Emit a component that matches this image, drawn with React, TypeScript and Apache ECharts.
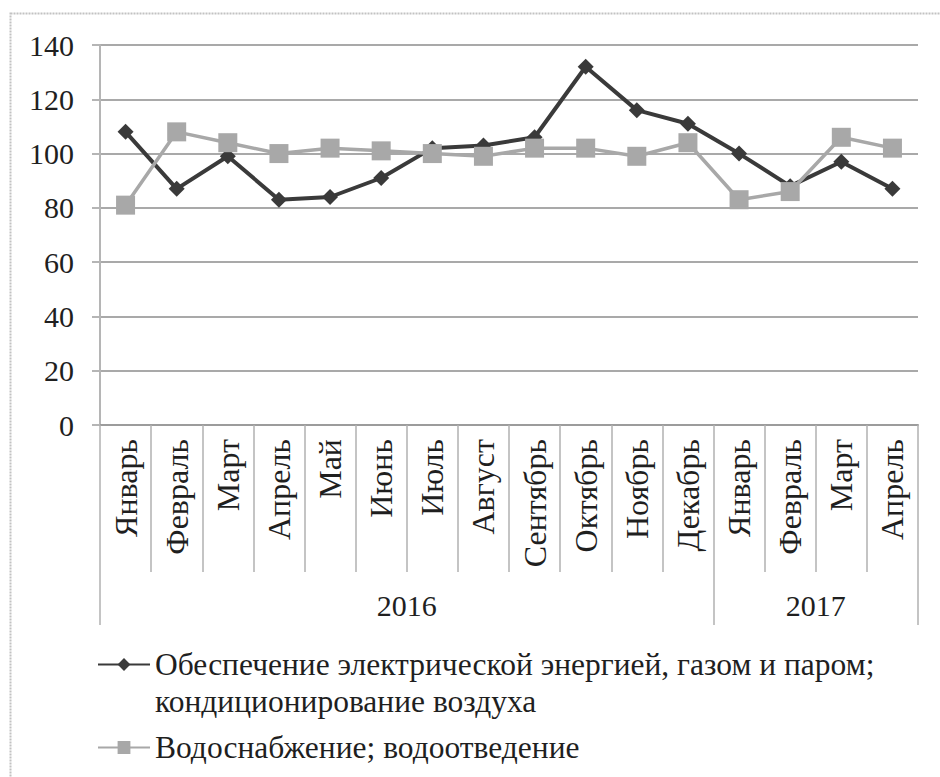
import React, { useEffect, useRef } from "react";
import * as echarts from "echarts";

// Monthly indices, Jan 2016 – Apr 2017
const months = [
  "Январь", "Февраль", "Март", "Апрель", "Май", "Июнь", "Июль", "Август",
  "Сентябрь", "Октябрь", "Ноябрь", "Декабрь",
  "Январь", "Февраль", "Март", "Апрель",
];
const years = ["2016", "2017"];
const monthsPerYear = [12, 4];

const energyName = "Обеспечение электрической энергией, газом и паром; кондиционирование воздуха";
const waterName = "Водоснабжение; водоотведение";

const energyValues = [108, 87, 99, 83, 84, 91, 102, 103, 106, 132, 116, 111, 100, 88, 97, 87];
const waterValues = [81, 108, 104, 100, 102, 101, 100, 99, 102, 102, 99, 104, 83, 86, 106, 102];

const yTicks = { min: 0, max: 140, step: 20 };

const FONT = "'Liberation Serif', 'Times New Roman', serif";
const TEXT = "#1f1f1f";
const GRID = "#a9a9a9";
const DARK = "#3a3a3a";
const LIGHT = "#a8a8a8";

export default function App() {
  const ref = useRef<HTMLDivElement>(null);

  useEffect(() => {
    if (!ref.current) return;
    const chart = echarts.init(ref.current, null, { renderer: "svg" });

    // year group boundaries and centres on a 0..N scale of months
    const bounds: number[] = [0];
    const centers: number[] = [];
    monthsPerYear.forEach((n) => {
      const start = bounds[bounds.length - 1];
      centers.push(start + n / 2);
      bounds.push(start + n);
    });
    const total = bounds[bounds.length - 1];

    chart.setOption({
      animation: false,
      backgroundColor: "#fff",
      textStyle: { fontFamily: FONT },
      graphic: [
        {
          type: "rect",
          shape: { x: 10.5, y: 13.5, width: 960, height: 800 },
          style: { fill: "none", stroke: "#c2c2c2", lineWidth: 2, lineDash: [2, 1] },
          silent: true,
        },
      ],
      grid: { left: 100, right: 22, top: 45, height: 380, containLabel: false },
      xAxis: [
        {
          type: "category",
          data: months,
          boundaryGap: true,
          axisLine: { show: true, lineStyle: { color: "#9c9c9c", width: 2 } },
          axisTick: {
            show: true,
            interval: 0,
            length: 147,
            lineStyle: { color: "#b0b0b0", width: 1.5 },
          },
          axisLabel: {
            interval: 0,
            rotate: 90,
            margin: 14,
            fontSize: 32,
            fontFamily: FONT,
            color: TEXT,
          },
          splitLine: { show: false },
        },
        {
          type: "value",
          min: 0,
          max: total,
          position: "bottom",
          offset: 147,
          axisLine: { show: false },
          axisTick: {
            show: true,
            customValues: bounds,
            length: 53,
            lineStyle: { color: "#b0b0b0", width: 1.5 },
          },
          axisLabel: {
            customValues: centers,
            margin: 18,
            fontSize: 30,
            fontFamily: FONT,
            color: TEXT,
            formatter: (v: number) => years[centers.indexOf(v)] ?? "",
          },
          splitLine: { show: false },
        },
      ],
      yAxis: {
        type: "value",
        min: yTicks.min,
        max: yTicks.max,
        interval: yTicks.step,
        axisLine: { show: true, lineStyle: { color: "#b5b5b5", width: 2 } },
        axisTick: { show: true, length: 8, lineStyle: { color: "#b5b5b5", width: 2 } },
        axisLabel: { margin: 26, fontSize: 30, fontFamily: FONT, color: TEXT },
        splitLine: { show: true, lineStyle: { color: GRID, width: 2 } },
      },
      legend: {
        orient: "vertical",
        left: 92,
        top: 604,
        itemWidth: 52,
        itemHeight: 16,
        itemGap: 9,
        data: [energyName, waterName],
        formatter: (name: string) =>
          name === energyName
            ? "\nОбеспечение электрической энергией, газом и паром;\nкондиционирование воздуха"
            : name,
        textStyle: { fontSize: 31.5, lineHeight: 37, fontFamily: FONT, color: TEXT },
      },
      series: [
        {
          name: energyName,
          type: "line",
          xAxisIndex: 0,
          data: energyValues,
          symbol: "diamond",
          symbolSize: 16,
          color: DARK,
          lineStyle: { width: 4, color: DARK },
          itemStyle: { color: DARK },
        },
        {
          name: waterName,
          type: "line",
          xAxisIndex: 0,
          data: waterValues,
          symbol: "rect",
          symbolSize: 19,
          color: LIGHT,
          lineStyle: { width: 3.5, color: LIGHT },
          itemStyle: { color: LIGHT },
        },
      ],
    });

    return () => chart.dispose();
  }, []);

  return (
    <div
      ref={ref}
      style={{ position: "absolute", left: 0, top: 0, width: 940, height: 777 }}
    />
  );
}
